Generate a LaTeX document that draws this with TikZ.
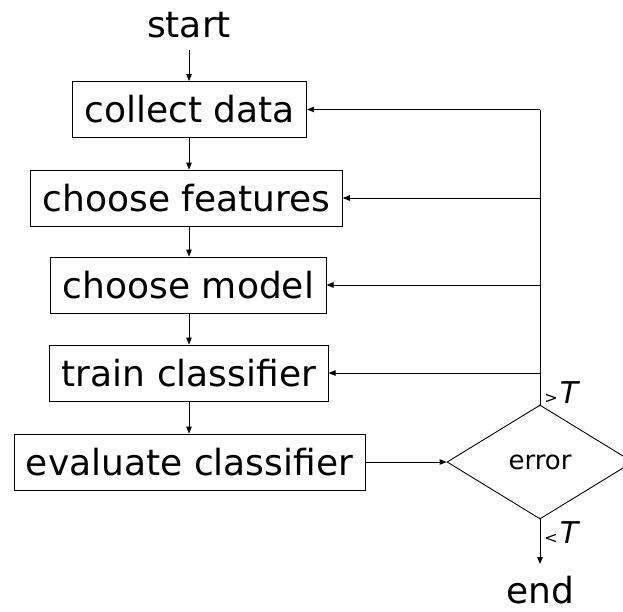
\documentclass[tikz,border=0pt]{standalone}
\usepackage{fontspec}
\setmainfont{DejaVu Sans}
\usetikzlibrary{shapes.geometric,arrows.meta}
\begin{document}
\begin{tikzpicture}[x=1pt,y=-1pt,
  line width=0.9pt,
  stepbox/.style={draw, minimum height=56pt, inner xsep=12pt, inner ysep=0pt,
    font=\fontsize{36}{40}\selectfont},
  bigtext/.style={font=\fontsize{36}{40}\selectfont, inner sep=0pt, anchor=base},
  flow/.style={-{Triangle[length=7pt,width=5.5pt]}},
  decision/.style={draw, shape=diamond, minimum width=186pt, minimum height=114pt,
    inner sep=0pt, font=\fontsize{26}{28}\selectfont}]
\useasboundingbox (0,0) rectangle (623,611);
\clip (0,0) rectangle (623,611);

% process steps
\node[bigtext] (start) at (189,37) {start};
\node[stepbox] (collect)  at (189.5,109.5) {collect data};
\node[stepbox] (features) at (186.5,198)   {choose features};
\node[stepbox] (model)    at (188.5,285)   {choose model};
\node[stepbox] (train)    at (189,373)     {train classifier};
\node[stepbox] (evaluate) at (189.5,462)   {evaluate classifier};

% decision on the error
\node[decision] (error) at (540,462) {error};
\node[bigtext] (finish) at (540,603) {end};

% feedback line and its branch points
\coordinate (fb1) at (540,109.5);
\coordinate (fb2) at (540,198);
\coordinate (fb3) at (540,285);
\coordinate (fb4) at (540,373);
\coordinate (stop) at (540,564);
\coordinate (spine) at (189,50);

% main chain, all on one vertical
\draw[flow] (spine) -- (spine |- collect.north);
\draw[flow] (spine |- collect.south) -- (spine |- features.north);
\draw[flow] (spine |- features.south) -- (spine |- model.north);
\draw[flow] (spine |- model.south) -- (spine |- train.north);
\draw[flow] (spine |- train.south) -- (spine |- evaluate.north);
\draw[flow] (evaluate) -- (error);

% loop back when the error is too large
\draw (error.north) -- (fb1);
\draw[flow] (fb1) -- (collect.east);
\draw[flow] (fb2) -- (features.east);
\draw[flow] (fb3) -- (model.east);
\draw[flow] (fb4) -- (train.east);

% finish when the error is small enough
\draw[flow] (error.south) -- (stop);

% threshold labels
\node[anchor=base west, inner sep=0pt] (gtT) at (544,403)
  {{\fontsize{16}{18}\selectfont >}\kern2pt{\fontsize{30}{32}\selectfont\itshape T}};
\node[anchor=base west, inner sep=0pt] (ltT) at (544,543)
  {{\fontsize{16}{18}\selectfont <}\kern2pt{\fontsize{30}{32}\selectfont\itshape T}};
\end{tikzpicture}
\end{document}
